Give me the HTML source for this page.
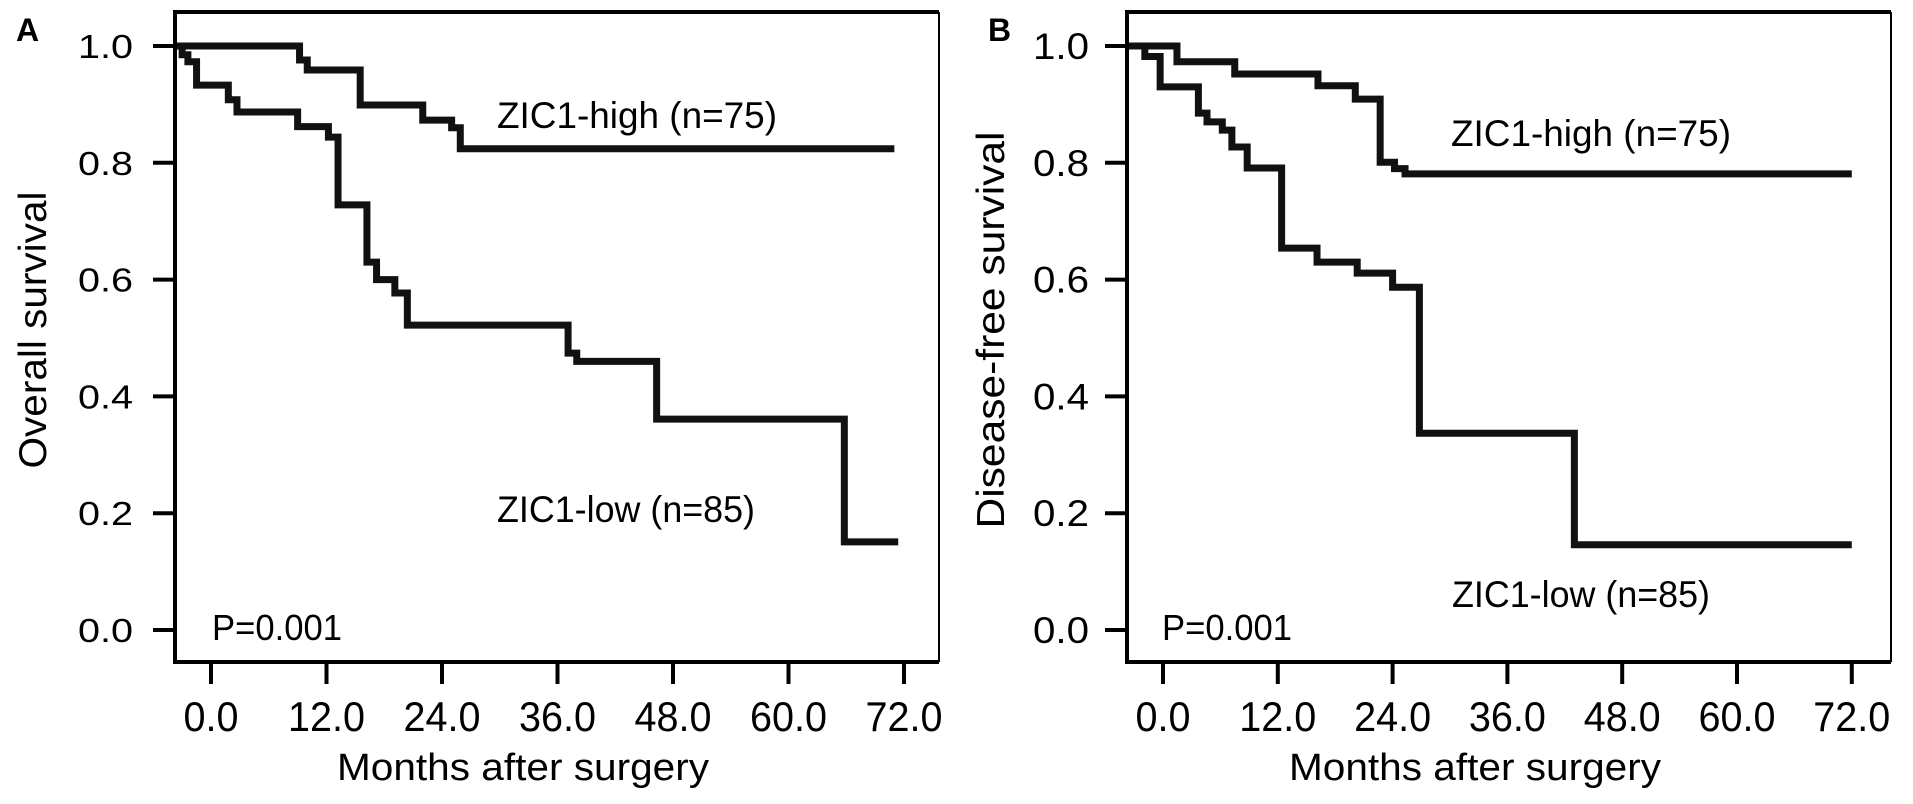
<!DOCTYPE html>
<html><head><meta charset="utf-8"><style>
html,body{margin:0;padding:0;background:#fff;}
svg{display:block;font-family:"Liberation Sans",Arial,sans-serif;}
</style></head><body>
<svg id="chart" width="1913" height="804" viewBox="0 0 1913 804"></svg>
<script>
const yTickValues=[0,0.2,0.4,0.6,0.8,1.0];
const yTickLabels=["0.0","0.2","0.4","0.6","0.8","1.0"];
const xTickValues=[0,12,24,36,48,60,72];
const xTickLabels=["0.0","12.0","24.0","36.0","48.0","60.0","72.0"];
// Panel A (overall survival)
const aHighTimes=[9.2,10.0,15.5,22,25,25.9];
const aHighSurv=[0.976,0.959,0.899,0.873,0.86,0.824];
const aHighEnd=71;
const aLowTimes=[-3,-2.4,-1.5,1.8,2.7,9,12.2,13.2,16.2,17.2,19.1,20.4,37.1,38,46.3,65.8];
const aLowSurv=[0.985,0.973,0.933,0.908,0.887,0.862,0.844,0.728,0.63,0.6,0.577,0.522,0.474,0.46,0.361,0.151];
const aLowEnd=71.4;
// Panel B (disease-free survival)
const bHighTimes=[1.46,7.5,16.2,20.1,22.7,24.2,25.3];
const bHighSurv=[0.973,0.952,0.932,0.909,0.801,0.79,0.781];
const bHighEnd=72;
const bLowTimes=[-1.9,-0.3,3.7,4.6,6.2,7.2,8.8,12.4,16.1,20.3,24.0,26.8,43.0];
const bLowSurv=[0.982,0.93,0.885,0.87,0.856,0.827,0.791,0.654,0.63,0.611,0.587,0.337,0.146];
const bLowEnd=72;

const NS="http://www.w3.org/2000/svg";
const svg=document.getElementById('chart');
function mk(tag,attrs,parent){const e=document.createElementNS(NS,tag);for(const k in attrs)e.setAttribute(k,attrs[k]);(parent||svg).appendChild(e);return e;}
const yScale=v=>630-584*v;

function panel(cfg){
  const g=mk('g',{});
  
  
  const xScale=t=>cfg.x0+cfg.px12*t/12;
  const fl=mk('path',{d:`M${cfg.right},12 H${cfg.left} V662 H${cfg.right}`,fill:'none',stroke:'#000','stroke-width':4},g);
  
  
  const fr=mk('line',{x1:cfg.right,y1:12,x2:cfg.right,y2:662,stroke:'#000','stroke-width':2},g);
  
  
  yTickValues.forEach((v,i)=>{
    const y=yScale(v);
    const t=mk('line',{x1:cfg.left-22,y1:y,x2:cfg.left,y2:y,stroke:'#000','stroke-width':4},g);
    
    
    const l=mk('text',{x:cfg.ylabRight,y:y+cfg.ylabDy,'text-anchor':'end','font-size':cfg.ylabFs,textLength:cfg.ylabW,lengthAdjust:'spacingAndGlyphs'},g);
    l.textContent=yTickLabels[i];
    
    
  });
  xTickValues.forEach((v,i)=>{
    const x=xScale(v);
    const t=mk('line',{x1:x,y1:662,x2:x,y2:684,stroke:'#000','stroke-width':4},g);
    
    
    const l=mk('text',{x:x,y:731,'text-anchor':'middle','font-size':42,textLength:xTickLabels[i].length>3?77:55,lengthAdjust:'spacingAndGlyphs'},g);
    l.textContent=xTickLabels[i];
    
    
  });
  function curve(times,surv,end,name){
    let d=`M${cfg.left+2},${yScale(1)}`;
    times.forEach((t,i)=>{d+=` H${xScale(t)} V${yScale(surv[i])}`;});
    d+=` H${xScale(end)}`;
    const p=mk('path',{d:d,fill:'none',stroke:'#111','stroke-width':7,'stroke-linejoin':'miter'},g);
    
    
  }
  curve(cfg.hiT,cfg.hiS,cfg.hiEnd,'zic1-high-curve');
  curve(cfg.loT,cfg.loS,cfg.loEnd,'zic1-low-curve');
  const texts=[
    [cfg.panelLabel,cfg.plx,41,{'font-size':32,'font-weight':'bold'},'panel-label'],
    ['ZIC1-high (n=75)',cfg.hx,cfg.hy,{'font-size':37,textLength:280,lengthAdjust:'spacingAndGlyphs'},'zic1-high-label'],
    ['ZIC1-low (n=85)',cfg.lx,cfg.ly,{'font-size':37,textLength:258,lengthAdjust:'spacingAndGlyphs'},'zic1-low-label'],
    ['P=0.001',cfg.px,640,{'font-size':36,textLength:130,lengthAdjust:'spacingAndGlyphs'},'p-value'],
    ['Months after surgery',cfg.mx,780,{'font-size':38,textLength:372,lengthAdjust:'spacingAndGlyphs'},'x-axis-title']
  ];
  texts.forEach(([s,x,y,a,n])=>{
    const e=mk('text',Object.assign({x:x,y:y},a),g);
    e.textContent=s;
    
    
  });
  const yt=mk('text',{x:0,y:0,'font-size':39,'text-anchor':'middle',textLength:cfg.ytLen,lengthAdjust:'spacingAndGlyphs',transform:`translate(${cfg.ytx},330) rotate(-90)`},g);
  yt.textContent=cfg.ytitle;
  
  
}
panel({name:'panel-a-overall-survival',left:175,right:939,x0:211,px12:115.5,ylabRight:133,ylabW:55,ylabFs:33,ylabDy:12,
  hiT:aHighTimes,hiS:aHighSurv,hiEnd:aHighEnd,loT:aLowTimes,loS:aLowSurv,loEnd:aLowEnd,
  panelLabel:'A',plx:16,hx:497,hy:128,lx:497,ly:522,px:212,mx:337,ytitle:'Overall survival',ytx:46,ytLen:277});
panel({name:'panel-b-disease-free-survival',left:1127,right:1891,x0:1163,px12:114.8,ylabRight:1089,ylabW:56,ylabFs:37,ylabDy:13,
  hiT:bHighTimes,hiS:bHighSurv,hiEnd:bHighEnd,loT:bLowTimes,loS:bLowSurv,loEnd:bLowEnd,
  panelLabel:'B',plx:988,hx:1451,hy:146,lx:1452,ly:607,px:1162,mx:1289,ytitle:'Disease-free survival',ytx:1004,ytLen:397});
</script>
</body></html>
